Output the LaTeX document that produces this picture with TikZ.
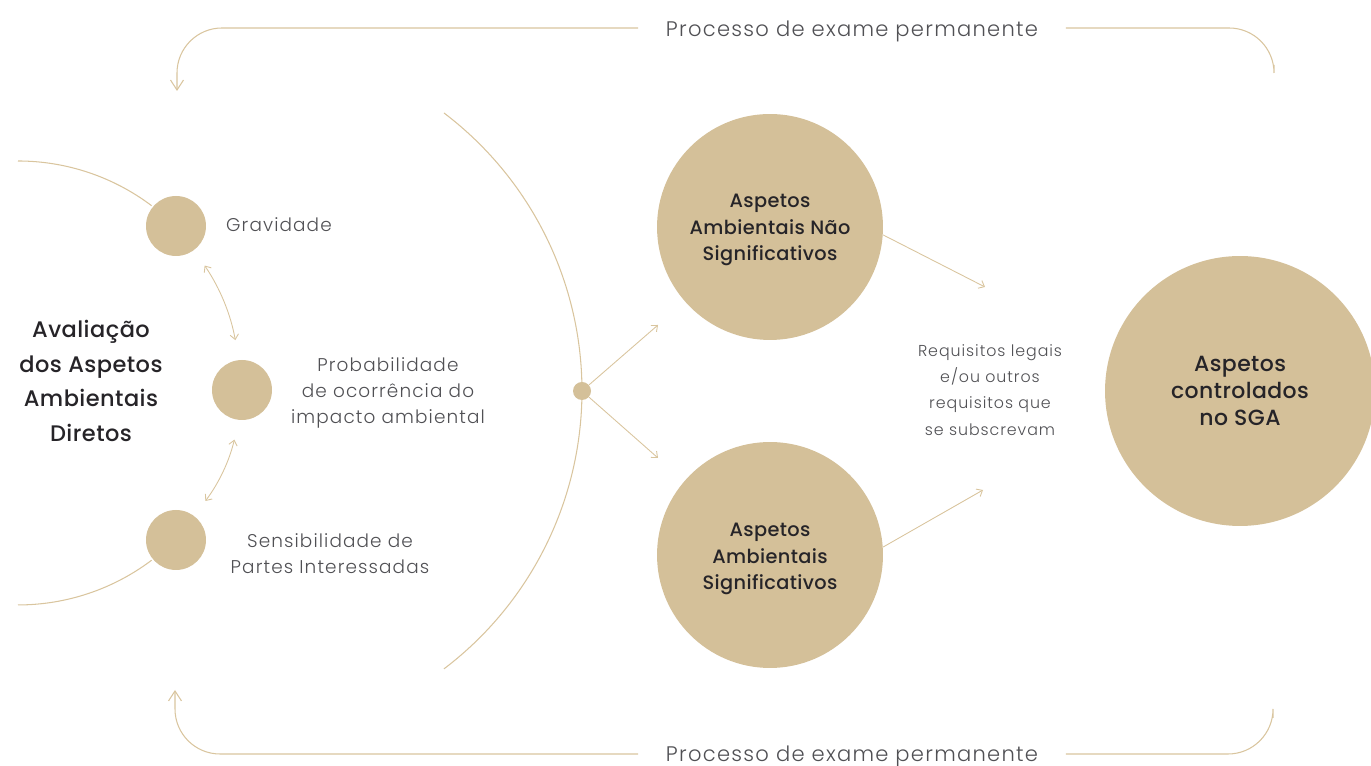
\documentclass[tikz,border=0pt]{standalone}
\usepackage{fontspec}
\setmainfont{Poppins}
\newfontfamily\lightface{Poppins Light}[LetterSpace=6]
\newfontfamily\midface{Poppins Medium}[LetterSpace=2]
\usetikzlibrary{arrows.meta,positioning,calc}
\definecolor{Sand}{RGB}{212,192,153}
\definecolor{SandLine}{RGB}{217,197,158}
\definecolor{InkDark}{RGB}{38,36,40}
\definecolor{InkGray}{RGB}{80,80,84}

\begin{document}
\begin{tikzpicture}[x=0.02cm,y=0.02cm,
  dot/.style={circle,fill=Sand,minimum size=1.2cm,inner sep=0pt},
  bigdisc/.style={circle,fill=Sand,minimum size=4.52cm,inner sep=0pt},
  disctxt/.style={align=center,font=\midface\fontsize{11}{15.1}\selectfont,text=InkDark},
  lbl/.style={align=center,font=\lightface\fontsize{10.5}{14.7}\selectfont,text=InkGray},
  looptxt/.style={lbl,font=\lightface\fontsize{12}{14}\selectfont,inner xsep=0.55cm,inner ysep=0pt},
  loop/.style={draw=SandLine,line width=0.6pt,rounded corners=0.9cm},
  thin/.style={draw=SandLine,line width=0.5pt,-{Straight Barb[length=1mm,width=1.7mm]}},
  twin/.style={draw=SandLine,line width=0.5pt,{Straight Barb[length=1mm,width=1.7mm]}-{Straight Barb[length=1mm,width=1.7mm]}}]
  \useasboundingbox (0,0) rectangle (1371,766);

  % left semicircle of criteria
  \coordinate (lc) at (18,383);
  \draw[SandLine,line width=0.6pt] (18,605) arc[start angle=90,end angle=53,radius=4.44cm];
  \draw[SandLine,line width=0.6pt] ([shift={(-53:4.44cm)}]lc) arc[start angle=-53,end angle=-90,radius=4.44cm];

  \node[dot] (grav) at (176,540) {};
  \node[dot] (prob) at (242,376) {};
  \node[dot] (sens) at (176,226) {};
  \node[lbl,anchor=west] at (220,541) (gravtxt) {Gravidade};
  \node[lbl] at (388,373) (probtxt) {Probabilidade\\de ocorrência do\\impacto ambiental};
  \node[lbl] at (330,212) (senstxt) {Sensibilidade de\\Partes Interessadas};
  \node[align=center,font=\midface\fontsize{12.8}{19.8}\selectfont,text=InkDark] at (91,385) (title) {Avaliação\\dos Aspetos\\Ambientais\\Diretos};

  \draw[twin,shorten <=0.37cm,shorten >=0.4cm] (grav.-53) to[bend left=12] (prob.96);
  \draw[twin,shorten <=0.4cm,shorten >=0.37cm] (prob.-96) to[bend left=12] (sens.53);

  % big arc and hub
  \draw[SandLine,line width=0.6pt] (444,653) arc[start angle=52.8,end angle=-52.8,radius=6.98cm];
  \node[circle,fill=Sand,minimum size=0.36cm,inner sep=0pt] (hub) at (582,375) {};
  \coordinate (upT) at (658,441);
  \coordinate (dnT) at (658,308);
  \draw[thin] (hub) -- (upT);
  \draw[thin] (hub) -- (dnT);

  \node[bigdisc] (nonsig) at (770,539) {};
  \node[bigdisc] (sig) at (770,211) {};
  \node[disctxt] (nonsigtxt) at (770,536) {Aspetos\\Ambientais Não\\Significativos};
  \node[disctxt] (sigtxt) at (770,207) {Aspetos\\Ambientais\\Significativos};
  \node[circle,fill=Sand,minimum size=5.4cm,inner sep=0pt,align=center,font=\midface\fontsize{12.5}{15.3}\selectfont,text=InkDark] (sga) at (1240,375) {Aspetos\\controlados\\no SGA};

  \node[align=center,font=\lightface\fontsize{9}{14.9}\selectfont,text=InkGray] (req) at (990,376) {Requisitos legais\\e/ou outros\\requisitos que\\se subscrevam};
  \coordinate (reqUp) at (985,479);
  \coordinate (reqDn) at (983,276);
  \draw[thin] (nonsig.-4) -- (reqUp);
  \draw[thin] (sig.4) -- (reqDn);

  % review loops
  \node[looptxt] (toptxt) at (852,735) {Processo de exame permanente};
  \node[looptxt] (bottxt) at (852,10) {Processo de exame permanente};
  \coordinate (topline) at (0,738);
  \coordinate (botline) at (0,12);
  \coordinate (topL) at (177,675);
  \coordinate (topR) at (1274,701);
  \coordinate (botL) at (175,76);
  \coordinate (botR) at (1273,48);
  \draw[loop,-{Straight Barb[length=2mm,width=2.6mm]}] (toptxt.west |- topline) -| (topL);
  \draw[loop] (toptxt.east |- topline) -| (topR);
  \draw[loop,-{Straight Barb[length=2mm,width=2.6mm]}] (bottxt.west |- botline) -| (botL);
  \draw[loop] (bottxt.east |- botline) -| (botR);
\end{tikzpicture}
\end{document}
